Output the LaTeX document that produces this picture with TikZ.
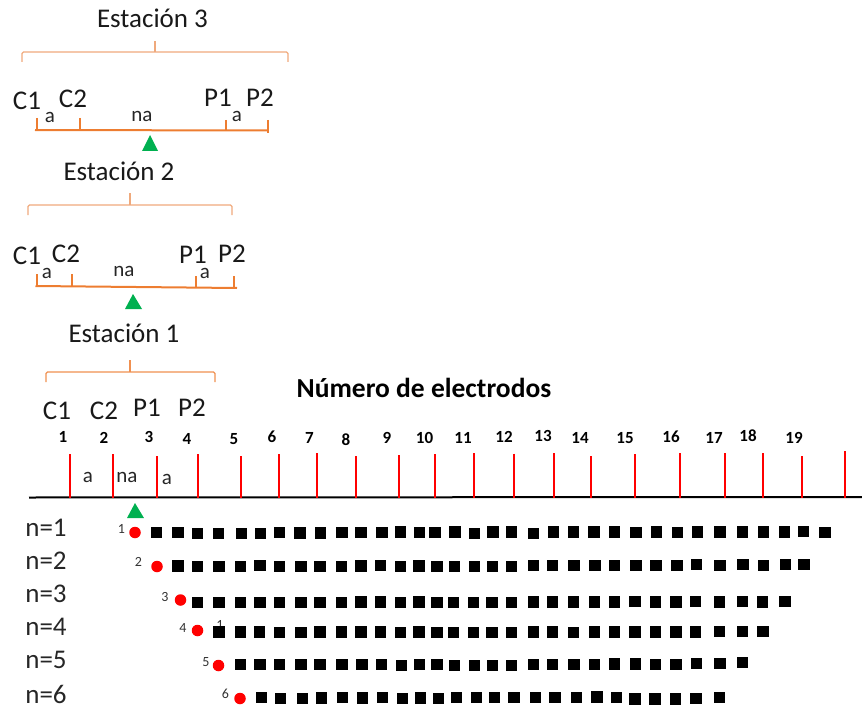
\documentclass[tikz,border=0pt]{standalone}
\usepackage{fontspec}
\setmainfont{Carlito}
\definecolor{org}{HTML}{ED7D31}
\definecolor{lorg}{HTML}{EFA97C}
\definecolor{grn}{HTML}{00B050}
\tikzset{
  title/.style={inner sep=0pt,font=\fontsize{27}{27}\selectfont,text=black!90},
  elec/.style={inner sep=0pt,font=\fontsize{27}{27}\selectfont,text=black!90},
  small/.style={inner sep=0pt,font=\fontsize{21}{21}\selectfont,text=black!85},
  num/.style={inner sep=0pt,font=\bfseries\fontsize{17}{17}\selectfont},
  nlab/.style={inner sep=0pt,font=\fontsize{27}{27}\selectfont,text=black!85},
  tiny/.style={inner sep=0pt,font=\fontsize{14}{14}\selectfont,text=black!80},
  sq/.style={fill=black,inner sep=0pt,minimum size=11.3pt,draw=none},
  dot/.style={circle,fill=red,inner sep=0pt,minimum size=11.5pt,draw=none},
  brk/.style={draw=lorg,line width=1.4pt,rounded corners=1.5pt},
  brkb/.style={draw=org!85!white,line width=1.1pt,rounded corners=1.5pt},
  stick/.style={draw=org,line width=2pt},
  rtick/.style={draw=red,line width=2pt},
  tri/.style={fill=grn,draw=none}
}
\newcommand{\sqrow}[4]{% name, x offset, y offset(zoom origin), list
  \foreach \zx/\zy [count=\i] in {#4} {
    \node[sq] (#1\i) at ({#2+\zx/3},{510+\zy/3}) {};
  }
}
\begin{document}
\begin{tikzpicture}[x=1pt,y=-1pt]
\useasboundingbox (0,0) rectangle (862,706);
% Station 3
\node[title] (t3) at (152.5,18) {Estación 3};
\draw[brk] (22,62) -- (22,52) -- (288,52) -- (288,62);
\draw[brk,rounded corners=0pt] (155,41) -- (155,52);
\node[elec] (c13) at (27,101) {C1};
\node[elec] (c23) at (73,99) {C2};
\node[elec] (p13) at (218,98) {P1};
\node[elec] (p23) at (260,98) {P2};
\node[small] (a31) at (50,117) {a};
\node[small] (na3) at (142,116) {na};
\node[small] (a32) at (237,116) {a};
\draw[stick] (35,130) -- (268,130.5);
\draw[stick] (36.5,118) -- (36.5,130);
\draw[stick] (80,118) -- (80,130);
\draw[stick] (226,120) -- (226,130);
\draw[stick] (267.5,120) -- (267.5,133);
\fill[tri] (142,151) -- (150,135) -- (158,151) -- cycle;
% Station 2
\node[title] (t2) at (119,171) {Estación 2};
\draw[brk] (28,215) -- (28,205) -- (232,205) -- (232,215);
\draw[brk,rounded corners=0pt] (130,193) -- (130,205);
\node[elec] (c12) at (27,256) {C1};
\node[elec] (c22) at (66,254) {C2};
\node[elec] (p12) at (193,255) {P1};
\node[elec] (p22) at (232,254) {P2};
\node[small] (a21) at (47,273) {a};
\node[small] (na2) at (124,271) {na};
\node[small] (a22) at (205,273) {a};
\draw[stick] (35.5,286) -- (237,288);
\draw[stick] (36.5,274) -- (36.5,286);
\draw[stick] (72,274) -- (72,286);
\draw[stick] (196,276) -- (196,287);
\draw[stick] (234,276) -- (234,288);
\fill[tri] (125,309) -- (133,294) -- (142,309) -- cycle;
% Station 1
\node[title] (t1) at (124,333) {Estación 1};
\draw[brkb] (46,382) -- (46,372) -- (215,372) -- (215,382);
\draw[brkb,rounded corners=0pt] (130,360) -- (130,372);
\node[elec] (c11) at (57,411) {C1};
\node[elec] (c21) at (104,411) {C2};
\node[elec] (p11) at (147,408) {P1};
\node[elec] (p21) at (192,408) {P2};
\node[small] (a11) at (88,477) {a};
\node[small] (na1) at (127,477) {na};
\node[small] (a12) at (167,479) {a};
% Title
\node[inner sep=0pt,font=\bfseries\fontsize{27.5}{27.5}\selectfont] (title) at (424,388) {Número de electrodos};
% Electrode numbers
\foreach \n/\x/\y in {1/63/437,2/104/438,3/149/437,4/187/439,5/234/439,6/272/437,7/309.5/438,8/346/440,9/387/438,10/424.5/438,11/463/438,12/504/437,13/543/436,14/580/438,15/625/438,16/671/437,17/714/438,18/748/436,19/794/438}
  \node[num] (e\n) at (\x,\y) {\n};
% Main line and ticks
\draw[black,line width=2pt] (29,497.5) -- (862,497);
\foreach \x/\y in {70/454,113/454,157/456,197.5/454,240.5/456,279/454,317/453,356/456,399/455,435/454,474/453,513.5/453.5,553.5/453,591/456,634.5/454,680/453,725/453,763/453,802/456,845/451}
  \draw[rtick] (\x,\y) -- (\x,497.5);
\fill[tri] (127,518) -- (135,503) -- (144,518) -- cycle;
% n labels
\foreach \n/\y in {1/528,2/561,3/593.5,4/627,5/660,6/694}
  \node[nlab] (n\n) at (46,\y) {n=\n};
% pseudo-section
\foreach \n/\x/\y/\lx/\ly in {1/135/532.5/121.5/529,2/157/566.5/138.5/562,3/180.5/600/165/597,4/197.5/630.5/183/627.5,5/218.5/665.5/206/662,6/240/698.5/225.5/693.5}{
  \node[dot] (d\n) at (\x,\y) {};
  \node[tiny] (l\n) at (\lx,\ly) {\n};
}
\node[tiny] (hid) at (220,625) {1};
\sqrow{ra}{0}{0}{470/68,534/68,592/70,655/70,724/70,782/70,838/68,900/69,962/69,1026/68,1083/68,1146/68,1202/66,1258/68}
\sqrow{rb}{430}{0}{15/67,75/66,133/70,189/66,245/66,311/70,370/66,430/66,492/66,553/66,618/68,680/66,743/68,803/66,870/66,938/66,1000/66,1064/66,1120/64,1185/68}
\sqrow{sa}{0}{0}{534/168,592/170,657/170,722/170,780/166,838/170,903/170,960/170,1024/170,1083/168,1142/166,1202/170,1257/168}
\sqrow{sb}{430}{0}{21/170,73/170,133/170,187/170,245/170,311/167,368/167,432/167,495/167,554/167,618/167,678/167,741/167,800/164,870/167,939/164,1001/167,1067/164,1122/164}
\sqrow{ta}{0}{0}{592/278,657/278,722/277,780/278,838/278,903/278,960/278,1024/277,1083/276,1142/276,1202/278,1257/276}
\sqrow{tb}{430}{0}{21/278,71/278,131/278,186/278,245/278,310/276,367/276,431/276,493/276,553/276,615/274,676/276,738/276,797/274,868/276,938/274,998/276,1065/274}
\sqrow{ua}{0}{0}{657/366,722/366,778/366,838/368,903/368,960/366,1024/366,1083/366,1142/366,1202/368,1257/366}
\sqrow{ub}{430}{0}{21/368,71/368,131/368,186/368,245/368,310/366,367/366,431/367,493/366,553/366,615/366,676/366,738/366,797/366,868/364,938/364,999/364}
\sqrow{va}{0}{0}{722/464,780/464,838/464,903/464,960/464,1026/464,1086/464,1144/464,1204/466,1258/464}
\sqrow{vb}{430}{0}{21/464,73/466,133/466,187/466,245/466,310/464,368/464,432/464,494/464,553/462,616/462,676/464,738/464,799/460,870/460,938/458}
\sqrow{wa}{0}{0}{784/563,842/565,907/565,964/564,1028/563,1088/564,1148/563,1208/565,1262/564}
\sqrow{wb}{430}{0}{25/565,80/563,140/563,194/563,252/563,316/563,375/563,439/563,501/561,560/563,615/567,675/567,737/567,798/565,868/563}
\end{tikzpicture}
\end{document}
